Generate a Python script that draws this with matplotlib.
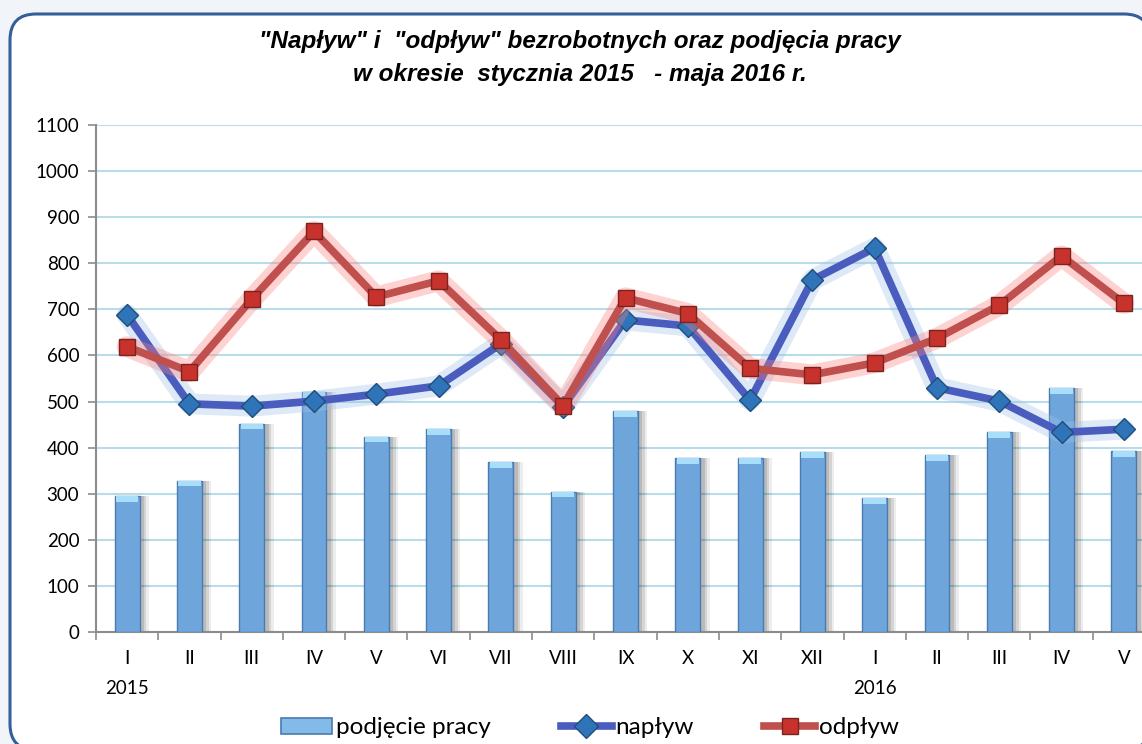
import numpy as np
import matplotlib
import matplotlib.pyplot as plt
from matplotlib.patches import FancyBboxPatch, Patch
from matplotlib.lines import Line2D
from matplotlib.ticker import MultipleLocator, FixedLocator

months = ["I", "II", "III", "IV", "V", "VI", "VII", "VIII", "IX", "X", "XI", "XII",
          "I", "II", "III", "IV", "V"]
years = {0: "2015", 12: "2016"}

podjecie = [295, 328, 452, 520, 424, 440, 368, 304, 479, 377, 377, 390, 290, 384, 433, 529, 392]
naplyw = [688, 495, 490, 501, 516, 534, 625, 489, 677, 664, 503, 764, 833, 530, 501, 433, 440]
odplyw = [619, 565, 722, 869, 727, 762, 634, 491, 725, 691, 572, 558, 584, 637, 709, 816, 713]

title = '"Napływ" i  "odpływ" bezrobotnych oraz podjęcia pracy\nw okresie  stycznia 2015   - maja 2016 r.'

BAR = "#6ea6dc"
BAR_EDGE = "#4a7ab0"
BLUE = "#4a5cbd"
RED = "#c0504d"
GRID = "#b9dde8"
AXIS = "#8c8c8c"

W, H = 1142, 744
fig = plt.figure(figsize=(W / 100, H / 100), dpi=100)
fig.patch.set_facecolor("#f1f4f9")

# background frame (pixel coordinates)
bg = fig.add_axes([0, 0, 1, 1], zorder=0)
bg.set_xlim(0, W)
bg.set_ylim(H, 0)
bg.axis("off")
bg.add_patch(FancyBboxPatch((10, 14), 1150 - 10, 750 - 14,
                            boxstyle="round,pad=0,rounding_size=26",
                            facecolor="white", edgecolor="#33609a", linewidth=2.2))

ax = fig.add_axes([96 / W, 112 / H, 1059 / W, 507 / H], zorder=1)
ax.set_facecolor("none")
x = np.arange(len(months))

# bars with a soft shadow and light top cap
for off, a in [(0.14, 0.07), (0.1, 0.1), (0.06, 0.12)]:
    ax.bar(x + off, podjecie, width=0.42, color="black", alpha=a, linewidth=0, zorder=2)
ax.bar(x, podjecie, width=0.4, color=BAR, edgecolor=BAR_EDGE, linewidth=1.0, zorder=3)
ax.bar(x, [12] * len(x), bottom=np.array(podjecie) - 12, width=0.36,
       color="#a8defa", linewidth=0, zorder=3.5)

# lines with glow
ax.plot(x, naplyw, color="#9fc0ea", lw=15, alpha=0.35, solid_capstyle="round", zorder=4)
ax.plot(x, naplyw, color=BLUE, lw=5.5, zorder=5, solid_joinstyle="miter",
        marker="D", markersize=11, markerfacecolor="#2f74b8", markeredgecolor="#1f4e7a",
        markeredgewidth=1.0)
ax.plot(x, odplyw, color="#ff7f7f", lw=15, alpha=0.35, solid_capstyle="round", zorder=6)
ax.plot(x, odplyw, color=RED, lw=5.5, zorder=7, solid_joinstyle="miter",
        marker="s", markersize=11, markerfacecolor="#c8322c", markeredgecolor="#7a2420",
        markeredgewidth=1.0)

ax.set_xlim(-0.5, len(months) - 0.5)
ax.set_ylim(0, 1100)
ax.yaxis.set_major_locator(MultipleLocator(100))
ax.grid(axis="y", color=GRID, linewidth=1.5, zorder=0)
ax.set_axisbelow(True)

for s in ["top", "right"]:
    ax.spines[s].set_visible(False)
for s in ["left", "bottom"]:
    ax.spines[s].set_color(AXIS)
    ax.spines[s].set_linewidth(1.5)

labels = [m + ("\n" + years[i] if i in years else "\n ") for i, m in enumerate(months)]
ax.set_xticks(x)
ax.set_xticklabels(labels, fontfamily="Lato", fontsize=13.5, linespacing=1.95)
ax.xaxis.set_minor_locator(FixedLocator(np.arange(-0.5, len(months), 1.0)))
ax.tick_params(axis="x", which="major", length=0, pad=13)
ax.tick_params(axis="x", which="minor", length=6, width=1.2, color=AXIS, direction="out")
ax.tick_params(axis="y", length=6, width=1.2, color=AXIS, direction="out", pad=6,
               labelsize=13.5)
for t in ax.get_yticklabels():
    t.set_fontfamily("Lato")

fig.text(0.508, 0.922, title, ha="center", va="center", fontsize=17.5,
         fontweight="bold", fontstyle="italic",
         family=["Liberation Sans"], linespacing=1.55)

handles = [
    Patch(facecolor="#82bbe8", edgecolor="#4a7ab0", linewidth=1.2),
    Line2D([], [], color=BLUE, lw=5.5, marker="D", markersize=12,
           markerfacecolor="#2f74b8", markeredgecolor="#1f4e7a"),
    Line2D([], [], color=RED, lw=5.5, marker="s", markersize=11,
           markerfacecolor="#c8322c", markeredgecolor="#7a2420"),
]
fig.legend(handles, ["podjęcie pracy", "napływ", "odpływ"], loc="center",
           bbox_to_anchor=(590 / W, (H - 728) / H), ncol=3, frameon=False,
           prop={"family": "Lato", "size": 17.5}, handlelength=2.1, handleheight=0.65,
           handletextpad=0.15, columnspacing=2.9)

fig.savefig("out.png", dpi=100, facecolor=fig.get_facecolor())
